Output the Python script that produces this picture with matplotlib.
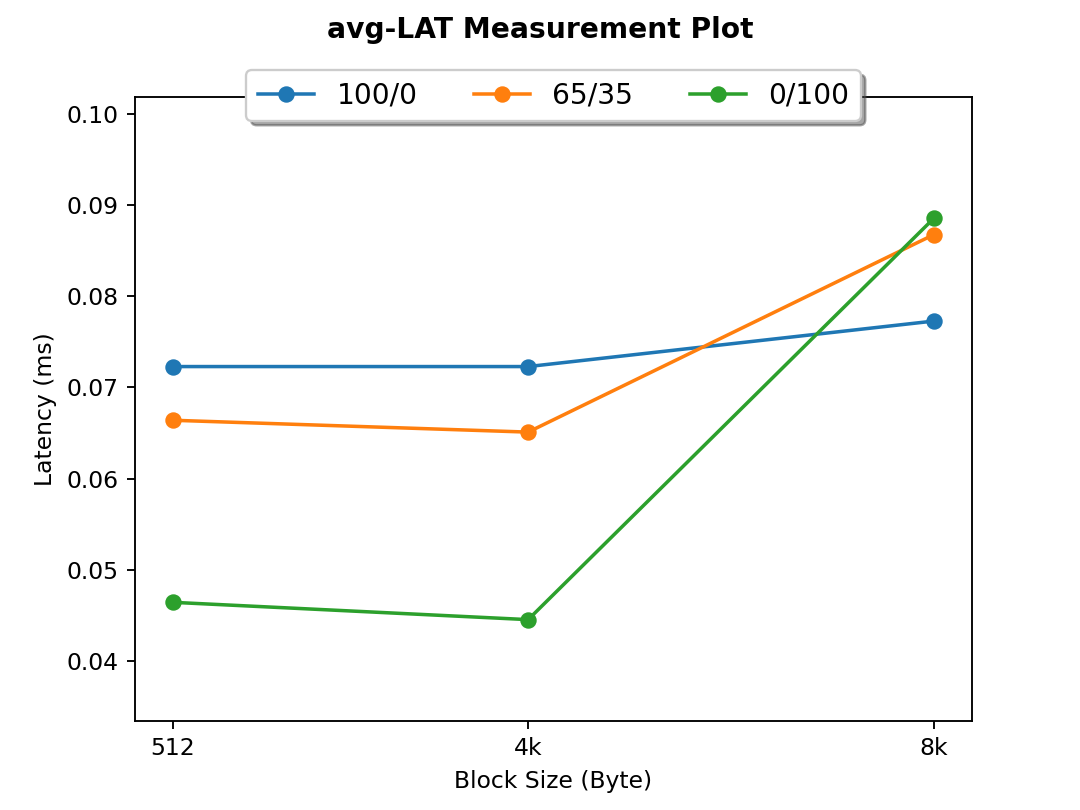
import matplotlib
matplotlib.use('Agg')
import matplotlib.pyplot as plt

## Block sizes (bytes) and tick labels
block_sizes = [512, 4096, 8192]
block_labels = ['512', '4k', '8k']

## avg latency (ms) per read/write mix
lat_100_0 = [0.0723, 0.0723, 0.0773]
lat_65_35 = [0.0664, 0.0651, 0.0868]
lat_0_100 = [0.0464, 0.0445, 0.0886]

fig, ax = plt.subplots(figsize=(6.4, 4.8), dpi=168.75)
ax.plot(block_sizes, lat_100_0, marker='o', label='100/0')
ax.plot(block_sizes, lat_65_35, marker='o', label='65/35')
ax.plot(block_sizes, lat_0_100, marker='o', label='0/100')

ax.set_xticks(block_sizes)
ax.set_xticklabels(block_labels)
ax.set_ylim(0.0445 * 0.75, 0.0886 * 1.15)
ax.set_xlabel('Block Size (Byte)')
ax.set_ylabel('Latency (ms)')
fig.suptitle('avg-LAT Measurement Plot', fontweight='bold')
ax.legend(loc='upper center', bbox_to_anchor=(0.5, 1.066), ncol=3,
          fancybox=True, shadow=True, fontsize=12)

fig.savefig('out.png')
